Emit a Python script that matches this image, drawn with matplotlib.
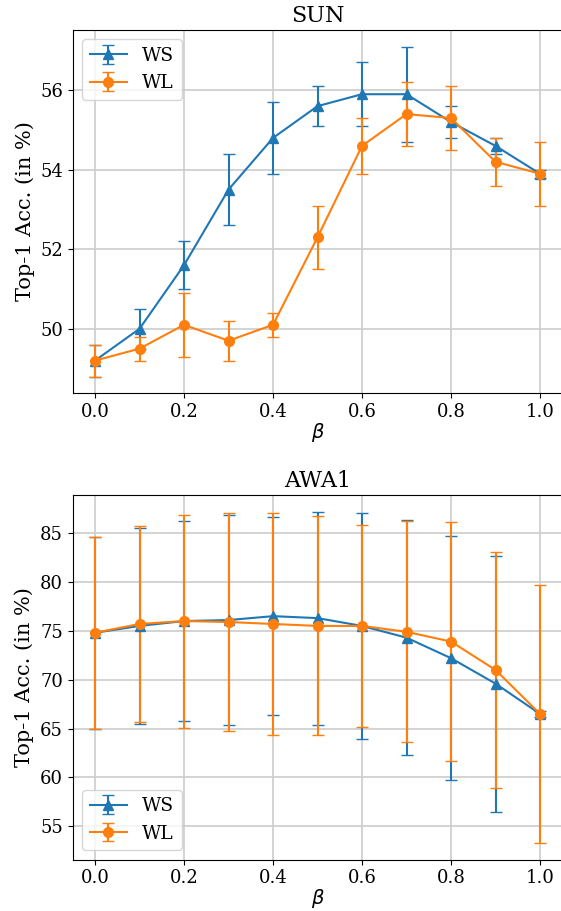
import matplotlib
matplotlib.use("Agg")
import matplotlib.pyplot as plt

plt.rcParams['font.family'] = ['DejaVu Serif']
plt.rcParams['mathtext.fontset'] = 'dejavusans'

beta = [0.0, 0.1, 0.2, 0.3, 0.4, 0.5, 0.6, 0.7, 0.8, 0.9, 1.0]

sun_ws = [49.2, 50.0, 51.6, 53.5, 54.8, 55.6, 55.9, 55.9, 55.2, 54.6, 53.9]
sun_ws_err = [0.4, 0.5, 0.6, 0.9, 0.9, 0.5, 0.8, 1.2, 0.4, 0.2, 0.1]
sun_wl = [49.2, 49.5, 50.1, 49.7, 50.1, 52.3, 54.6, 55.4, 55.3, 54.2, 53.9]
sun_wl_err = [0.4, 0.3, 0.8, 0.5, 0.3, 0.8, 0.7, 0.8, 0.8, 0.6, 0.8]

awa_ws = [74.8, 75.5, 76.0, 76.1, 76.5, 76.3, 75.5, 74.3, 72.2, 69.6, 66.5]
awa_ws_err = [9.8, 10.0, 10.2, 10.7, 10.1, 10.9, 11.6, 12.0, 12.5, 13.1, 0.3]
awa_wl = [74.8, 75.7, 76.0, 75.9, 75.7, 75.5, 75.5, 74.9, 73.9, 71.0, 66.5]
awa_wl_err = [9.8, 10.0, 10.9, 11.2, 11.4, 11.2, 10.3, 11.3, 12.2, 12.1, 13.2]

titles = ["SUN", "AWA1"]
legend_locs = ["upper left", "lower left"]
ylabel = "Top-1 Acc. (in %)"
xlabel = r"$\beta$"

fig = plt.figure(figsize=(5.61, 9.11), dpi=100)
ax1 = fig.add_axes([72.75 / 561, 1 - 393 / 911, 489.5 / 561, 363 / 911])
ax2 = fig.add_axes([72.75 / 561, 1 - 859.5 / 911, 489.5 / 561, 364.5 / 911])

datasets = [(sun_ws, sun_ws_err, sun_wl, sun_wl_err),
            (awa_ws, awa_ws_err, awa_wl, awa_wl_err)]

for ax, (ws, wse, wl, wle), title, loc in zip([ax1, ax2], datasets, titles, legend_locs):
    ax.errorbar(beta, ws, yerr=wse, marker='^', color='#1f77b4', capsize=4,
                linewidth=1.5, markersize=7, label='WS')
    ax.errorbar(beta, wl, yerr=wle, marker='o', color='#ff7f0e', capsize=4,
                linewidth=1.5, markersize=7, label='WL')
    ax.set_title(title, fontsize=16)
    ax.set_ylabel(ylabel, fontsize=15)
    ax.set_xlabel(xlabel, fontsize=14, labelpad=0)
    ax.tick_params(labelsize=13)
    ax.grid(True, color='#cccccc', linewidth=1.2)
    ax.set_axisbelow(True)
    ax.legend(loc=loc, fontsize=13.5)

fig.savefig("out.png", dpi=100)
